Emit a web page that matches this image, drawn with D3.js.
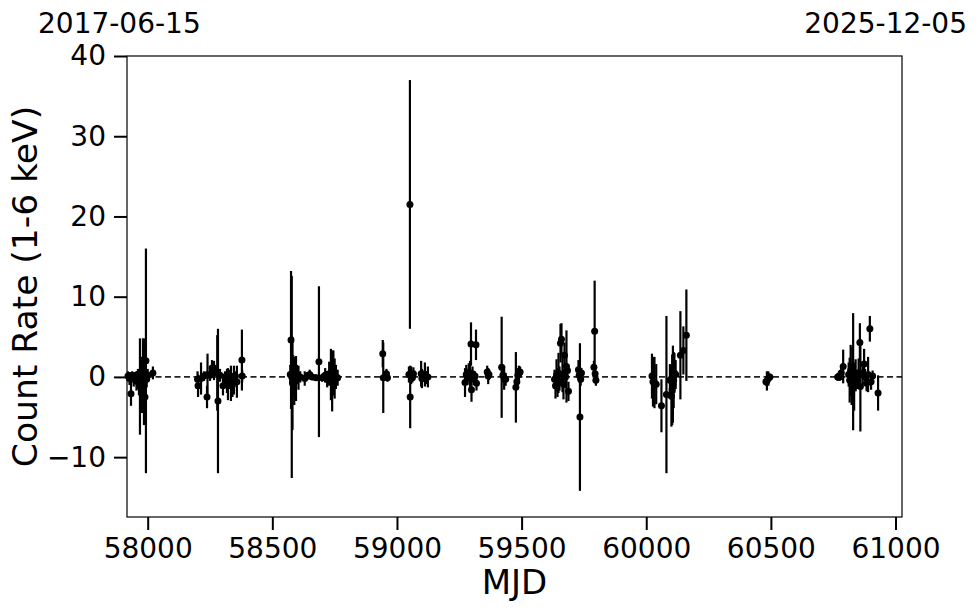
<!DOCTYPE html>
<html>
<head>
<meta charset="utf-8">
<script src="https://cdn.jsdelivr.net/npm/d3@7"></script>
<style>
  body { margin: 0; background: #fff; }
  svg text { font-family: "DejaVu Sans", sans-serif; fill: #000; }
</style>
</head>
<body>
<svg id="lc" width="980" height="613"></svg>
<script>
// light curve, one row per observation
var mjd = [
  57921, 57927, 57933, 57938, 57944, 57950, 57955, 57961, 57965, 57969, 57973, 57977, 57981, 57985, 57989, 57993, 57996, 58000, 58021,
  58200, 58202, 58214, 58226, 58238, 58240, 58250, 58258, 58266, 58272, 58279, 58282, 58290, 58302, 58310, 58318, 58322, 58328, 58334, 58340, 58346, 58352, 58358, 58378, 58379,
  58572, 58575, 58578, 58581, 58584, 58588, 58591, 58595, 58599, 58605, 58612, 58630, 58640, 58650, 58660, 58675, 58687, 58700, 58712, 58720, 58728, 58735, 58740, 58745, 58750, 58755, 58762,
  58943, 58945, 58958, 58962,
  59048, 59052, 59053, 59057, 59062, 59066,
  59097, 59100, 59104, 59112, 59116, 59124,
  59273, 59278, 59283, 59288, 59293, 59297, 59299, 59303, 59308, 59313, 59317, 59319, 59362, 59366, 59369,
  59420, 59425, 59430, 59436, 59477, 59481, 59485, 59489, 59494,
  59632, 59636, 59640, 59644, 59648, 59652, 59656, 59660, 59664, 59668, 59672, 59676, 59680, 59684, 59688, 59728, 59731, 59734, 59737, 59740, 59790, 59793, 59795, 59798,
  60023, 60027, 60033, 60040, 60061, 60081, 60095, 60101, 60104, 60107, 60110, 60113, 60118, 60137, 60149, 60161,
  60480, 60484, 60490, 60496,
  60768, 60776, 60782, 60790, 60812, 60816, 60820, 60824, 60827, 60830, 60834, 60840, 60846, 60852, 60857, 60859, 60868, 60874, 60878, 60884, 60890, 60897, 60902, 60908, 60930
];
var rate = [
  0.1, -0.2, -2.1, 0.2, -0.3, 0.0, -0.5, 0.3, -0.8, -1.2, 0.0, -1.5, 0.5, -0.6, -2.5, 2.0, -0.3, 0.2, 0.5,
  -0.3, -1.1, -0.2, 0.1, -2.5, 0.3, 0.2, 1.1, 0.8, 0.9, 0.5, -3.0, 0.2, -1.1, 0.0, -0.5, -0.9, -0.3, -0.8, -1.0, -0.4, 0.1, -0.6, 2.1, 0.1,
  0.3, 4.6, 0.0, -0.8, 0.2, -0.5, 0.4, -0.2, 0.3, -0.1, 0.0, -0.2, 0.1, 0.3, 0.0, -0.1, 1.9, -0.1, 0.2, -0.3, 0.4, 0.3, -0.5, 0.5, -0.2, 0.0, -0.1,
  2.9, -0.1, 0.4, -0.1,
  0.3, 21.5, -2.5, 0.2, -0.1, 0.4,
  0.4, -0.2, 0.1, 0.3, -0.1, 0.0,
  -0.7, 0.3, -0.1, 0.6, 0.2, 4.1, -1.6, 0.4, -0.3, 0.1, 4.0, -0.8, 0.6, 0.1, 0.3,
  1.2, 0.2, -0.1, -0.3, -1.3, -0.6, 0.2, 0.4, 0.6,
  -0.3, -1.1, 0.2, -0.7, 0.5, -0.2, 4.2, 4.7, 0.3, -0.9, 2.7, 0.0, 1.3, 0.8, -1.8, 0.9, 0.2, -5.0, -0.3, 0.5, 1.2, 5.7, 0.4, -0.4,
  0.1, -0.6, -0.7, -0.9, -3.6, -2.2, -0.4, -2.4, -1.6, -0.9, -0.4, 0.5, 0.3, 2.7, 3.3, 5.2,
  -0.6, -0.5, -0.2, 0.0,
  0.0, 0.1, 0.5, 1.3, 0.3, -0.4, 0.8, -0.9, 0.2, 0.65, -1.2, 0.2, -0.3, 0.5, 4.3, -1.2, 0.4, 1.6, 0.0, -0.8, 0.3, 6.0, -0.6, 0.1, -2.0
];
var rateErr = [
  0.6, 0.8, 1.5, 0.5, 0.9, 0.6, 1.2, 0.7, 1.5, 6.0, 2.5, 3.0, 4.3, 5.4, 3.5, 14.0, 1.0, 0.8, 0.8,
  1.0, 1.4, 2.0, 0.6, 1.4, 2.6, 0.7, 1.0, 1.2, 0.6, 4.7, 9.0, 0.8, 1.2, 0.7, 1.5, 2.0, 1.2, 2.2, 1.5, 1.8, 0.6, 2.0, 3.8, 0.8,
  1.2, 8.6, 12.6, 5.8, 2.5, 3.0, 2.0, 2.8, 1.2, 1.5, 0.7, 0.9, 0.5, 0.6, 0.4, 0.4, 9.4, 0.5, 0.9, 1.0, 1.5, 3.2, 3.8, 2.8, 2.5, 1.5, 1.0,
  1.7, 4.4, 0.6, 0.5,
  1.0, 15.5, 3.9, 1.1, 0.6, 0.8,
  1.6, 1.2, 0.7, 1.5, 0.8, 1.3,
  1.8, 1.2, 0.9, 1.1, 1.8, 2.7, 1.5, 0.9, 0.7, 0.6, 1.9, 0.9, 0.8, 1.0, 0.7,
  6.3, 0.9, 1.5, 0.8, 4.4, 1.0, 0.9, 1.0, 0.7,
  1.2, 1.6, 2.0, 1.8, 2.5, 1.5, 2.4, 2.0, 2.2, 1.9, 1.6, 1.4, 4.5, 0.7, 1.2, 1.2, 0.9, 9.2, 0.8, 0.6, 0.8, 6.3, 0.9, 0.7,
  2.8, 3.1, 3.2, 2.5, 3.3, 9.8, 2.0, 3.8, 4.4, 4.8, 3.5, 2.5, 1.8, 5.5, 3.0, 5.7,
  0.5, 1.2, 0.9, 0.4,
  0.5, 0.6, 0.9, 2.1, 1.5, 2.8, 3.2, 2.6, 3.5, 7.3, 3.0, 2.0, 1.2, 1.8, 2.4, 5.6, 1.5, 1.9, 1.0, 1.0, 2.2, 1.6, 1.0, 0.7, 2.2
];

var xTicks = [58000, 58500, 59000, 59500, 60000, 60500, 61000];
var yTicks = [-10, 0, 10, 20, 30, 40];
var startDate = "2017-06-15", endDate = "2025-12-05";

var svg = d3.select("svg#lc"),
	pLeft = 127, pRight = 902, pTop = 56, pBottom = 517;

var x = d3.scaleLinear().domain([57917, 61026]).range([pLeft, pRight]);
var y = d3.scaleLinear().domain([-17.46, 40]).range([pBottom, pTop]);

var rows = mjd.map(function(d, i) { return { t: d, r: rate[i], e: rateErr[i] }; });

// zero line
svg.append("line")
	.attr("x1", pLeft).attr("x2", pRight)
	.attr("y1", y(0)).attr("y2", y(0))
	.attr("stroke", "#222")
	.attr("stroke-width", 1.6)
	.attr("stroke-dasharray", "6,3.5");

// error bars
svg.append("g")
	.selectAll("line")
	.data(rows)
	.enter().append("line")
	  .attr("x1", function(d) { return x(d.t); })
	  .attr("x2", function(d) { return x(d.t); })
	  .attr("y1", function(d) { return y(d.r - d.e); })
	  .attr("y2", function(d) { return y(d.r + d.e); })
	  .attr("stroke", "#000")
	  .attr("stroke-width", 2.2);

svg.append("g")
	.selectAll("circle")
	.data(rows)
	.enter().append("circle")
	  .attr("cx", function(d) { return x(d.t); })
	  .attr("cy", function(d) { return y(d.r); })
	  .attr("r", 3.5)
	  .attr("fill", "#000");

// frame
svg.append("rect")
	.attr("x", pLeft).attr("y", pTop)
	.attr("width", pRight - pLeft).attr("height", pBottom - pTop)
	.attr("fill", "none")
	.attr("stroke", "#000")
	.attr("stroke-width", 1.2);

var xAxis = svg.append("g")
	.attr("transform", "translate(0," + pBottom + ")")
	.call(d3.axisBottom(x).tickValues(xTicks).tickFormat(d3.format("d")).tickSize(13).tickPadding(8));
var yAxis = svg.append("g")
	.attr("transform", "translate(" + pLeft + ",0)")
	.call(d3.axisLeft(y).tickValues(yTicks).tickSize(13).tickPadding(8));

[xAxis, yAxis].forEach(function(a) {
	a.select(".domain").remove();
	a.selectAll(".tick line").attr("stroke", "#000").attr("stroke-width", 2);
	a.selectAll(".tick text").style("font-size", "28px").attr("fill", "#000");
});

svg.append("text")
	.attr("x", (pLeft + pRight) / 2).attr("y", 594)
	.attr("text-anchor", "middle")
	.style("font-size", "34px")
	.text("MJD");

svg.append("text")
	.attr("transform", "translate(37," + (pTop + pBottom) / 2 + ") rotate(-90)")
	.attr("text-anchor", "middle")
	.style("font-size", "34.5px")
	.text("Count Rate (1-6 keV)");

svg.append("text")
	.attr("x", 38).attr("y", 33)
	.style("font-size", "28px")
	.text(startDate);
svg.append("text")
	.attr("x", 967).attr("y", 33)
	.attr("text-anchor", "end")
	.style("font-size", "28px")
	.text(endDate);
</script>
</body>
</html>
